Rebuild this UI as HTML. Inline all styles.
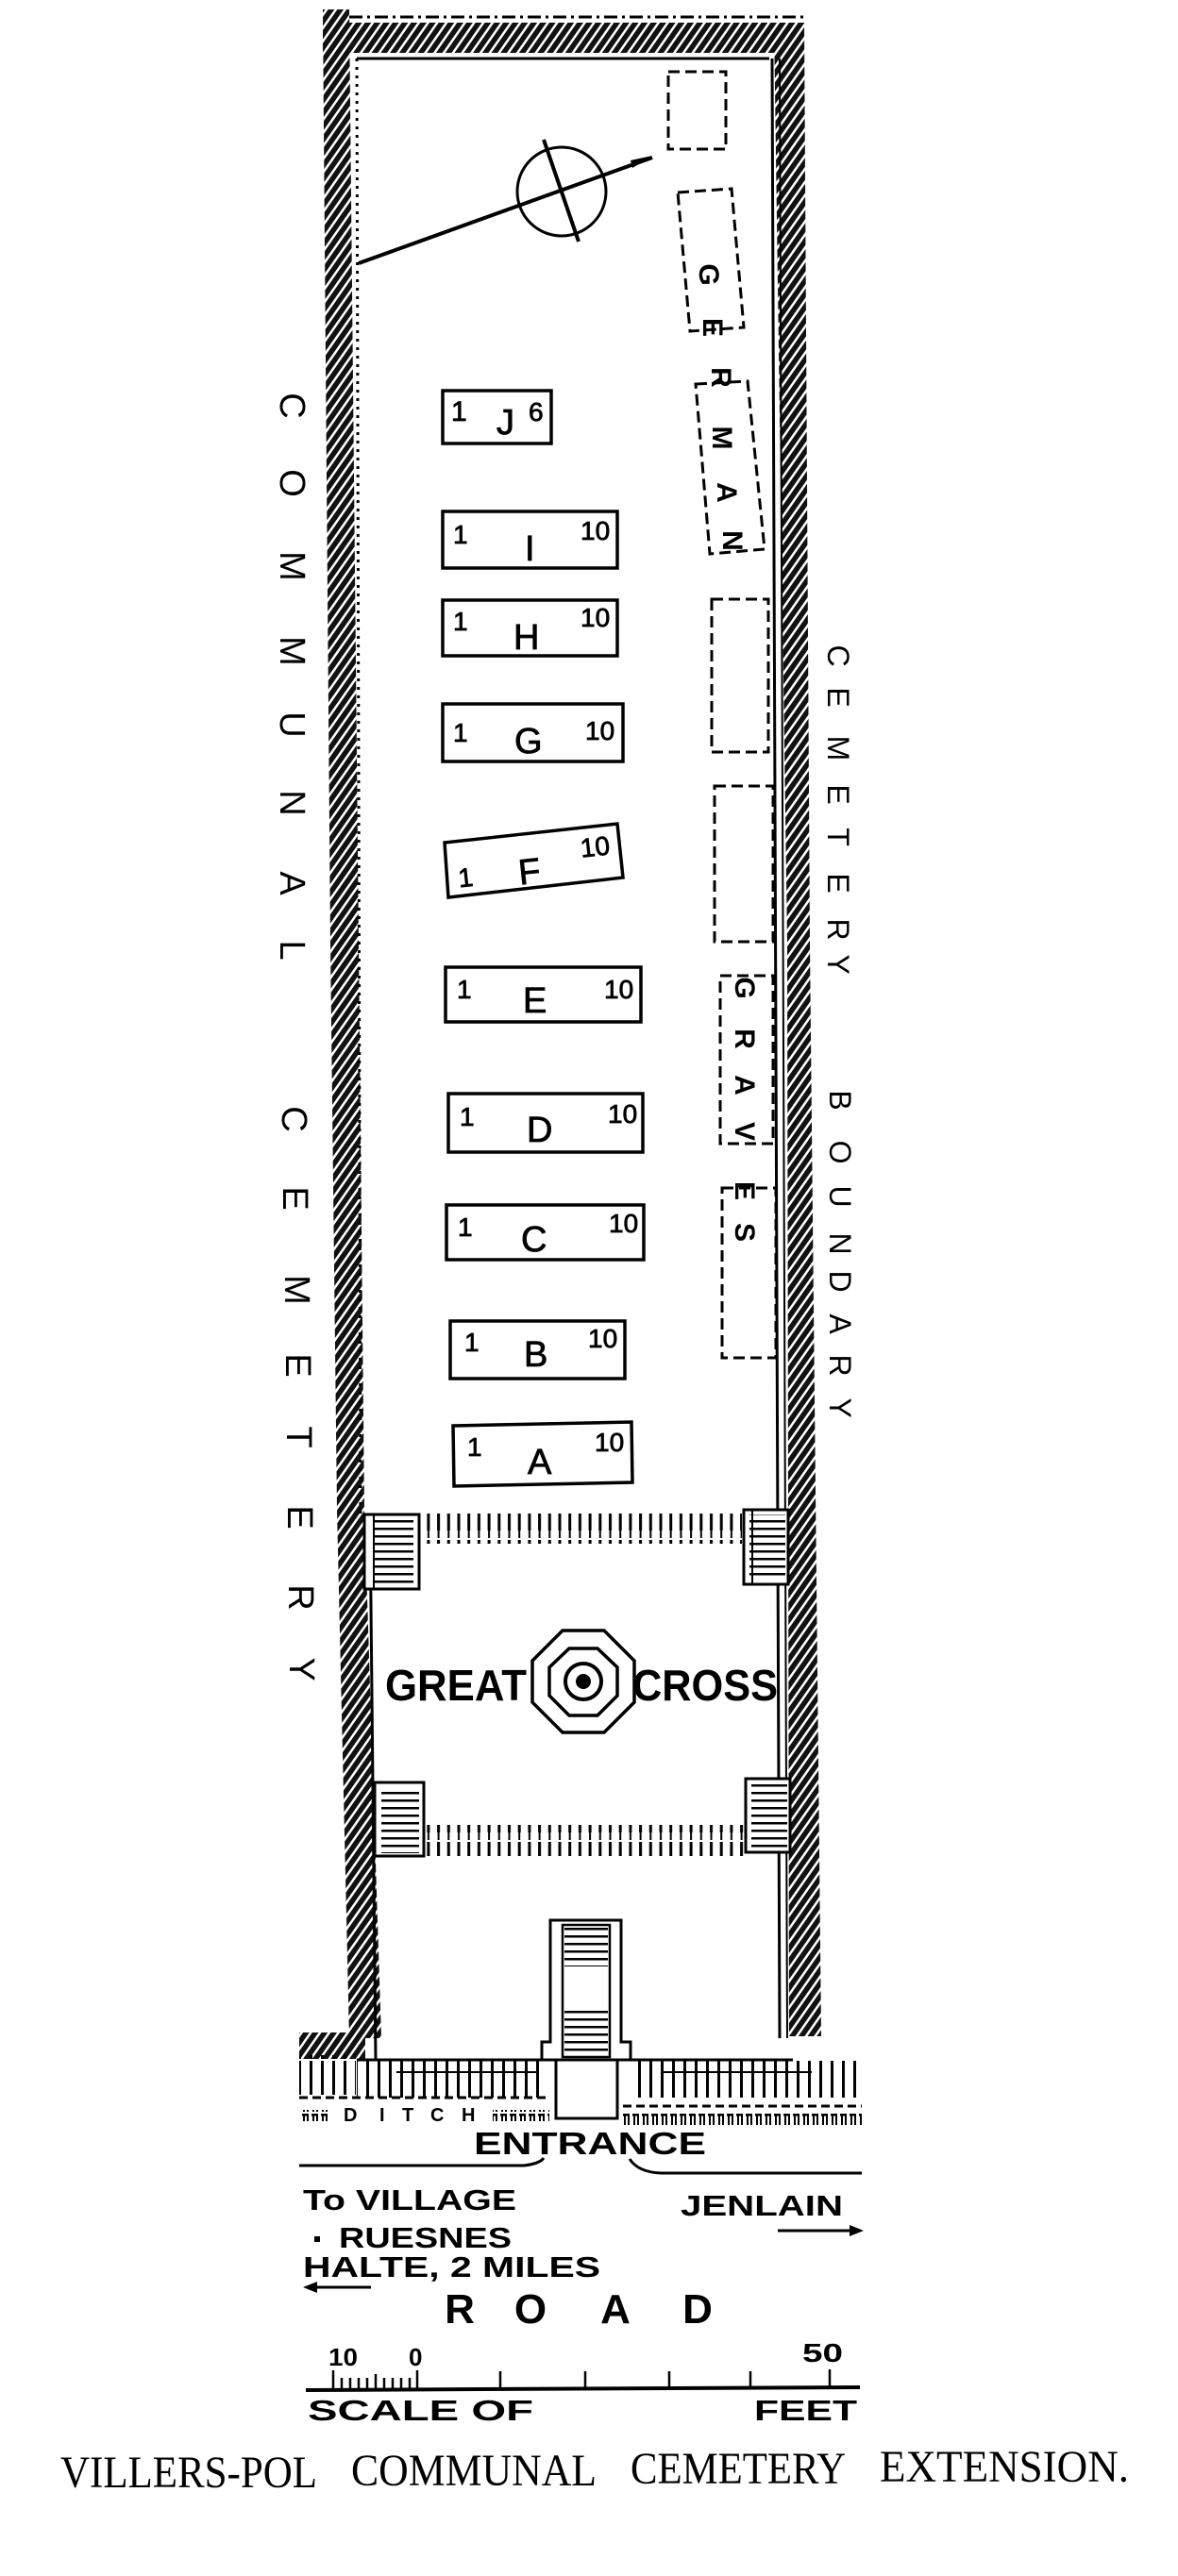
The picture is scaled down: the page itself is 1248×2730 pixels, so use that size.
<!DOCTYPE html>
<html><head><meta charset="utf-8"><style>
html,body{margin:0;padding:0;background:#fff}
svg{display:block}
text{font-family:"Liberation Sans",sans-serif;fill:#000}
.b{font-weight:bold}
.m{stroke:#000;stroke-width:0.8}
.cap{font-family:"Liberation Serif",serif;font-size:48px}
</style></head><body>
<svg width="1248" height="2730" viewBox="0 0 1248 2730" xmlns="http://www.w3.org/2000/svg">
<defs>
<pattern id="hatch" width="8" height="8" patternUnits="userSpaceOnUse" patternTransform="rotate(35)">
<rect width="8" height="8" fill="#111"/><rect x="0" y="0" width="2.5" height="8" fill="#fff"/>
</pattern>
<pattern id="tick1" width="10.7" height="32" patternUnits="userSpaceOnUse">
<rect x="3" y="0" width="3" height="22" fill="#000"/><rect x="3.5" y="20" width="2" height="10" fill="#000"/>
</pattern>
<pattern id="fence" width="12" height="42" patternUnits="userSpaceOnUse">
<rect x="4" y="0" width="3" height="40" fill="#000"/>
</pattern>
<pattern id="steps" width="10" height="8" patternUnits="userSpaceOnUse">
<rect x="0" y="3" width="10" height="2.5" fill="#000"/>
</pattern>
<pattern id="pp" width="10" height="14" patternUnits="userSpaceOnUse">
<rect x="0" y="0" width="7" height="2.5" fill="#000"/><rect x="1" y="0" width="2" height="12" fill="#000"/><rect x="5" y="0" width="2" height="12" fill="#000"/>
</pattern>
</defs>

<!-- walls -->
<polygon points="342,10 370,10 380,1000 386,1600 404,2160 370,2160 357,1600 350,1000" fill="url(#hatch)"/>
<rect x="317" y="2154" width="70" height="28" fill="url(#hatch)"/>
<polygon points="820,24 852,24 858,1000 870,2158 836,2158 834,1000" fill="url(#hatch)"/>
<rect x="342" y="24" width="510" height="32" fill="url(#hatch)"/>
<line x1="370" y1="18" x2="855" y2="18" stroke="#000" stroke-width="3" stroke-dasharray="14 5 3 5"/>
<line x1="378" y1="62" x2="815" y2="62" stroke="#000" stroke-width="3"/>
<line x1="378" y1="62" x2="382" y2="1605" stroke="#000" stroke-width="3" stroke-dasharray="3 6"/>
<line x1="818" y1="62" x2="826" y2="2160" stroke="#000" stroke-width="3"/>
<line x1="826" y1="62" x2="834" y2="2160" stroke="#000" stroke-width="2"/>
<line x1="392" y1="1605" x2="398" y2="2183" stroke="#000" stroke-width="3"/>

<!-- compass -->
<circle cx="595" cy="203" r="47" fill="none" stroke="#000" stroke-width="3"/>
<line x1="380" y1="279" x2="691" y2="167" stroke="#000" stroke-width="4"/>
<polygon points="691,165 668,170 670,178" fill="#000"/>
<line x1="576" y1="148" x2="613" y2="256" stroke="#000" stroke-width="4"/>

<!-- dashed german/graves boxes -->
<g fill="none" stroke="#000" stroke-width="3" stroke-dasharray="12 6">
<rect x="708" y="76" width="61" height="82"/>
<polygon points="718,204 775,200 788,347 731,351"/>
<polygon points="737,407 792,404 810,582 752,587"/>
<rect x="754" y="635" width="60" height="162"/>
<rect x="757" y="833" width="62" height="165"/>
<rect x="763" y="1034" width="56" height="178"/>
<rect x="765" y="1259" width="57" height="180"/>
</g>
<g class="b" font-size="30">
<text transform="translate(752,291) rotate(90)" text-anchor="middle" dy="11">G</text>
<text transform="translate(756,347) rotate(90)" text-anchor="middle" dy="11">E</text>
<text transform="translate(765,400) rotate(90)" text-anchor="middle" dy="11">R</text>
<text transform="translate(766,464) rotate(90)" text-anchor="middle" dy="11">M</text>
<text transform="translate(771,522) rotate(90)" text-anchor="middle" dy="11">A</text>
<text transform="translate(777,573) rotate(90)" text-anchor="middle" dy="11">N</text>
<text transform="translate(790,1047) rotate(90)" text-anchor="middle" dy="11">G</text>
<text transform="translate(790,1101) rotate(90)" text-anchor="middle" dy="11">R</text>
<text transform="translate(790,1150) rotate(90)" text-anchor="middle" dy="11">A</text>
<text transform="translate(790,1199) rotate(90)" text-anchor="middle" dy="11">V</text>
<text transform="translate(790,1262) rotate(90)" text-anchor="middle" dy="11">E</text>
<text transform="translate(790,1306) rotate(90)" text-anchor="middle" dy="11">S</text>
</g>

<!-- plot rows -->
<g fill="none" stroke="#000" stroke-width="3.5">
<rect x="469" y="414" width="115" height="56"/>
<rect x="469" y="542" width="185" height="60"/>
<rect x="469" y="636" width="185" height="59"/>
<rect x="469" y="746" width="191" height="61"/>
<polygon points="471,893 654,873 660,930 475,951"/>
<rect x="472" y="1025" width="207" height="58"/>
<rect x="475" y="1159" width="206" height="62"/>
<rect x="473" y="1277" width="209" height="58"/>
<rect x="477" y="1400" width="185" height="61"/>
<polygon points="480,1511 669,1507 670,1571 481,1575"/>
</g>
<g class="m">
<text x="478" y="446" font-size="30">1</text><text x="526" y="460" font-size="38">J</text><text x="560" y="446" font-size="28">6</text>
<text x="480" y="576" font-size="28">1</text><text x="556" y="594" font-size="38">I</text><text x="615" y="572" font-size="28">10</text>
<text x="480" y="668" font-size="28">1</text><text x="544" y="688" font-size="38">H</text><text x="615" y="664" font-size="28">10</text>
<text x="480" y="786" font-size="28">1</text><text x="545" y="798" font-size="38">G</text><text x="620" y="784" font-size="28">10</text>
<g transform="rotate(-6 565 912)"><text x="484" y="932" font-size="28">1</text><text x="548" y="936" font-size="38">F</text><text x="616" y="914" font-size="28">10</text></g>
<text x="484" y="1058" font-size="28">1</text><text x="554" y="1073" font-size="38">E</text><text x="640" y="1058" font-size="28">10</text>
<text x="487" y="1193" font-size="28">1</text><text x="558" y="1210" font-size="38">D</text><text x="644" y="1190" font-size="28">10</text>
<text x="485" y="1310" font-size="28">1</text><text x="552" y="1326" font-size="38">C</text><text x="645" y="1306" font-size="28">10</text>
<text x="492" y="1432" font-size="28">1</text><text x="555" y="1448" font-size="38">B</text><text x="623" y="1428" font-size="28">10</text>
<text x="495" y="1543" font-size="28">1</text><text x="559" y="1562" font-size="38">A</text><text x="630" y="1538" font-size="28">10</text>
</g>

<!-- side labels -->
<g font-size="38">
<text transform="translate(310,430) rotate(90)" text-anchor="middle" dy="13">C</text>
<text transform="translate(310,512) rotate(90)" text-anchor="middle" dy="13">O</text>
<text transform="translate(310,600) rotate(90)" text-anchor="middle" dy="13">M</text>
<text transform="translate(310,690) rotate(90)" text-anchor="middle" dy="13">M</text>
<text transform="translate(310,768) rotate(90)" text-anchor="middle" dy="13">U</text>
<text transform="translate(310,851) rotate(90)" text-anchor="middle" dy="13">N</text>
<text transform="translate(310,936) rotate(90)" text-anchor="middle" dy="13">A</text>
<text transform="translate(310,1007) rotate(90)" text-anchor="middle" dy="13">L</text>
<text transform="translate(312,1186) rotate(90)" text-anchor="middle" dy="13">C</text>
<text transform="translate(313,1270) rotate(90)" text-anchor="middle" dy="13">E</text>
<text transform="translate(315,1367) rotate(90)" text-anchor="middle" dy="13">M</text>
<text transform="translate(316,1447) rotate(90)" text-anchor="middle" dy="13">E</text>
<text transform="translate(317,1523) rotate(90)" text-anchor="middle" dy="13">T</text>
<text transform="translate(318,1608) rotate(90)" text-anchor="middle" dy="13">E</text>
<text transform="translate(319,1693) rotate(90)" text-anchor="middle" dy="13">R</text>
<text transform="translate(320,1769) rotate(90)" text-anchor="middle" dy="13">Y</text>
</g>
<g font-size="32">
<text transform="translate(888,695) rotate(90)" text-anchor="middle" dy="11">C</text>
<text transform="translate(888,739) rotate(90)" text-anchor="middle" dy="11">E</text>
<text transform="translate(888,793) rotate(90)" text-anchor="middle" dy="11">M</text>
<text transform="translate(888,842) rotate(90)" text-anchor="middle" dy="11">E</text>
<text transform="translate(888,887) rotate(90)" text-anchor="middle" dy="11">T</text>
<text transform="translate(888,936) rotate(90)" text-anchor="middle" dy="11">E</text>
<text transform="translate(888,985) rotate(90)" text-anchor="middle" dy="11">R</text>
<text transform="translate(888,1022) rotate(90)" text-anchor="middle" dy="11">Y</text>
<text transform="translate(890,1166) rotate(90)" text-anchor="middle" dy="11">B</text>
<text transform="translate(890,1221) rotate(90)" text-anchor="middle" dy="11">O</text>
<text transform="translate(890,1268) rotate(90)" text-anchor="middle" dy="11">U</text>
<text transform="translate(890,1318) rotate(90)" text-anchor="middle" dy="11">N</text>
<text transform="translate(890,1358) rotate(90)" text-anchor="middle" dy="11">D</text>
<text transform="translate(890,1403) rotate(90)" text-anchor="middle" dy="11">A</text>
<text transform="translate(890,1447) rotate(90)" text-anchor="middle" dy="11">R</text>
<text transform="translate(890,1492) rotate(90)" text-anchor="middle" dy="11">Y</text>
</g>

<!-- cross section -->
<rect x="446" y="1604" width="340" height="32" fill="url(#tick1)"/>
<rect x="452" y="1934" width="336" height="33" fill="url(#tick1)"/>
<g fill="#fff" stroke="#000" stroke-width="3">
<rect x="386" y="1605" width="58" height="79"/><rect x="788" y="1600" width="47" height="79"/>
<rect x="397" y="1889" width="52" height="78"/><rect x="790" y="1885" width="47" height="78"/>
</g>
<rect x="396" y="1610" width="42" height="70" fill="url(#steps)"/>
<rect x="794" y="1605" width="38" height="70" fill="url(#steps)"/>
<rect x="404" y="1894" width="40" height="70" fill="url(#steps)"/>
<rect x="796" y="1890" width="38" height="70" fill="url(#steps)"/>
<line x1="396" y1="1605" x2="396" y2="1684" stroke="#000" stroke-width="2"/>
<line x1="797" y1="1600" x2="797" y2="1679" stroke="#000" stroke-width="2"/>

<polygon points="596,1728 640,1728 672,1760 672,1804 640,1836 596,1836 564,1804 564,1760" fill="none" stroke="#000" stroke-width="3.5"/>
<polygon points="603,1747 633,1747 654,1767 654,1797 633,1818 603,1818 582,1797 582,1767" fill="none" stroke="#000" stroke-width="3.5"/>
<circle cx="618" cy="1782" r="19" fill="none" stroke="#000" stroke-width="4"/>
<circle cx="618" cy="1782" r="8" fill="#000"/>
<text x="408" y="1802" class="b" font-size="46" textLength="150" lengthAdjust="spacingAndGlyphs">GREAT</text>
<text x="670" y="1802" class="b" font-size="46" textLength="154" lengthAdjust="spacingAndGlyphs">CROSS</text>

<!-- entrance -->
<rect x="378" y="2183" width="196" height="40" fill="url(#fence)"/>
<rect x="668" y="2183" width="245" height="40" fill="url(#fence)"/>
<rect x="317" y="2178" width="60" height="42" fill="url(#fence)"/>
<line x1="378" y1="2183" x2="574" y2="2183" stroke="#000" stroke-width="3"/>
<line x1="668" y1="2183" x2="840" y2="2183" stroke="#000" stroke-width="3"/>
<line x1="420" y1="2196" x2="570" y2="2196" stroke="#000" stroke-width="2"/>
<line x1="700" y1="2196" x2="860" y2="2196" stroke="#000" stroke-width="2"/>
<line x1="317" y1="2223" x2="583" y2="2223" stroke="#000" stroke-width="3" stroke-dasharray="9 5"/>
<line x1="660" y1="2232" x2="913" y2="2232" stroke="#000" stroke-width="3" stroke-dasharray="9 5"/>
<rect x="317" y="2236" width="30" height="12" fill="url(#pp)"/>
<rect x="522" y="2236" width="60" height="12" fill="url(#pp)"/>
<rect x="660" y="2240" width="253" height="12" fill="url(#pp)"/>
<polygon points="574,2164 583,2164 583,2035 658,2035 658,2164 668,2164 668,2183 574,2183" fill="#fff" stroke="#000" stroke-width="3"/>
<rect x="596" y="2040" width="50" height="140" fill="#fff" stroke="#000" stroke-width="2.5"/>
<rect x="598" y="2042" width="46" height="42" fill="url(#steps)"/>
<rect x="598" y="2130" width="46" height="48" fill="url(#steps)"/>
<polyline points="589,2183 589,2245 654,2245 654,2183" fill="none" stroke="#000" stroke-width="3"/>
<text x="364" y="2248" class="b" font-size="20">D</text><text x="402" y="2248" class="b" font-size="20">I</text>
<text x="426" y="2248" class="b" font-size="20">T</text><text x="456" y="2248" class="b" font-size="20">C</text>
<text x="489" y="2248" class="b" font-size="20">H</text>

<text x="502" y="2283" class="b" font-size="33" textLength="246" lengthAdjust="spacingAndGlyphs">ENTRANCE</text>
<path d="M317,2295 L555,2295 Q572,2293 576,2287" fill="none" stroke="#000" stroke-width="3"/>
<path d="M667,2288 Q676,2302 700,2303 L913,2303" fill="none" stroke="#000" stroke-width="3"/>
<text x="321" y="2342" class="b" font-size="31" textLength="226" lengthAdjust="spacingAndGlyphs">To VILLAGE</text>
<text x="721" y="2348" class="b" font-size="31" textLength="172" lengthAdjust="spacingAndGlyphs">JENLAIN</text>
<line x1="824" y1="2364" x2="905" y2="2364" stroke="#000" stroke-width="3"/>
<polygon points="915,2364 900,2358 900,2370" fill="#000"/>
<rect x="333" y="2370" width="6" height="6" fill="#000"/>
<text x="359" y="2382" class="b" font-size="31" textLength="183" lengthAdjust="spacingAndGlyphs">RUESNES</text>
<text x="321" y="2413" class="b" font-size="31" textLength="315" lengthAdjust="spacingAndGlyphs">HALTE, 2 MILES</text>
<line x1="330" y1="2424" x2="393" y2="2424" stroke="#000" stroke-width="3"/>
<polygon points="321,2424 336,2418 336,2430" fill="#000"/>
<g class="b" font-size="44" text-anchor="middle">
<text x="487" y="2462">R</text><text x="562" y="2462">O</text><text x="652" y="2462">A</text><text x="739" y="2462">D</text>
</g>

<!-- scale -->
<text x="348" y="2507" class="b" font-size="26" textLength="31" lengthAdjust="spacingAndGlyphs">10</text>
<text x="433" y="2507" class="b" font-size="26">0</text>
<text x="850" y="2503" class="b" font-size="28" textLength="43" lengthAdjust="spacingAndGlyphs">50</text>
<line x1="324" y1="2533" x2="911" y2="2530" stroke="#000" stroke-width="4"/>
<g stroke="#000" stroke-width="2.5">
<line x1="353" y1="2512" x2="353" y2="2532"/><line x1="362" y1="2520" x2="362" y2="2532"/><line x1="371" y1="2520" x2="371" y2="2532"/>
<line x1="380" y1="2520" x2="380" y2="2532"/><line x1="389" y1="2520" x2="389" y2="2532"/><line x1="398" y1="2516" x2="398" y2="2532"/>
<line x1="407" y1="2520" x2="407" y2="2532"/><line x1="416" y1="2520" x2="416" y2="2532"/><line x1="425" y1="2520" x2="425" y2="2532"/>
<line x1="434" y1="2520" x2="434" y2="2532"/><line x1="442" y1="2512" x2="442" y2="2532"/>
<line x1="530" y1="2513" x2="530" y2="2532"/><line x1="620" y1="2513" x2="620" y2="2532"/>
<line x1="709" y1="2513" x2="709" y2="2532"/><line x1="795" y1="2513" x2="795" y2="2532"/><line x1="879" y1="2511" x2="879" y2="2530"/>
</g>
<text x="326" y="2565" class="b" font-size="31" textLength="239" lengthAdjust="spacingAndGlyphs">SCALE OF</text>
<text x="799" y="2565" class="b" font-size="31" textLength="109" lengthAdjust="spacingAndGlyphs">FEET</text>

<text x="64" y="2636" class="cap" textLength="272" lengthAdjust="spacingAndGlyphs">VILLERS-POL</text>
<text x="372" y="2634" class="cap" textLength="260" lengthAdjust="spacingAndGlyphs">COMMUNAL</text>
<text x="668" y="2632" class="cap" textLength="228" lengthAdjust="spacingAndGlyphs">CEMETERY</text>
<text x="932" y="2630" class="cap" textLength="264" lengthAdjust="spacingAndGlyphs">EXTENSION.</text>
</svg>
</body></html>
